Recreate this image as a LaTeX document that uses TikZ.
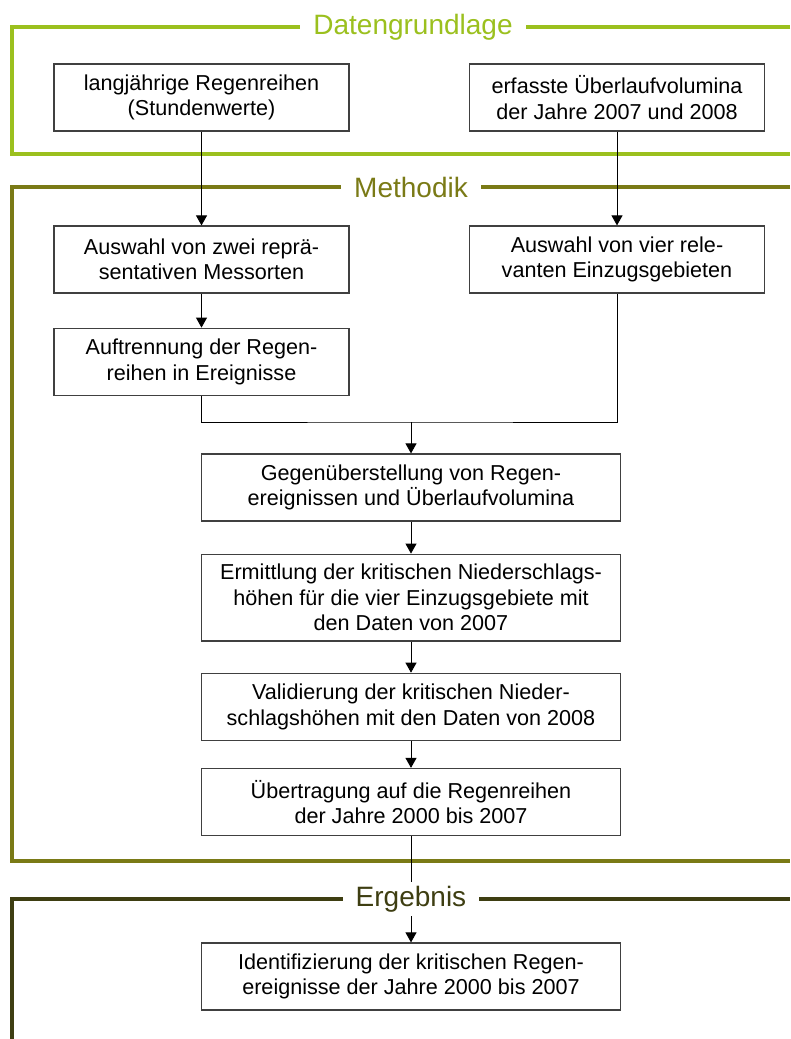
\documentclass[tikz,border=0pt]{standalone}
\usepackage{fontspec}
\setmainfont{Liberation Sans}
\usepackage{tikz}
\usetikzlibrary{positioning,arrows.meta}

\definecolor{grundgruen}{RGB}{155,192,30}
\definecolor{methodoliv}{RGB}{122,122,22}
\definecolor{ergebnisoliv}{RGB}{62,62,18}

\begin{document}
\begin{tikzpicture}[x=1pt, y=-1pt,
  box/.style={draw=black!75, line width=1.2pt, minimum width=#1, minimum height=67pt,
              inner ysep=10pt, align=center, fill=white, font=\fontsize{21.6}{25.5}\selectfont},
  box/.default=295pt,
  frame/.style={line width=3.2pt, draw=#1},
  title/.style={fill=white, text=#1, font=\fontsize{28}{32}\selectfont,
                inner xsep=13pt, inner ysep=4pt},
  arr/.style={-{Triangle[length=10pt,width=11pt]}, line width=0.9pt},
  con/.style={line width=0.9pt}
]
  \useasboundingbox (0,0) rectangle (790,1039);

  % Rahmen
  \draw[frame=grundgruen] (790,27) -- (12,27) -- (12,154) -- (790,154);
  \draw[frame=methodoliv] (790,187) -- (12,187) -- (12,861) -- (790,861);
  \draw[frame=ergebnisoliv] (790,899) -- (12,899) -- (12,1045);

  \node[title=grundgruen] (grundlageTitel) at (413,27) {Datengrundlage};
  \node[title=methodoliv] (methodikTitel) at (411,187) {Methodik};
  \node[title=ergebnisoliv] (ergebnisTitel) at (411,899) {Ergebnis};

  % Datengrundlage
  \node[box] (regenreihen) at (201.5,97.5) {langjährige Regenreihen\\(Stundenwerte)};
  \node[box] (volumina) at (617,97.5) {erfasste Überlaufvolumina\\der Jahre 2007 und 2008};

  % Methodik
  \node[box] (messorten) at (201.5,259.5) {Auswahl von zwei reprä-\\sentativen Messorten};
  \node[box] (gebiete) at (617,259.5) {Auswahl von vier rele-\\vanten Einzugsgebieten};
  \node[box, below=34pt of messorten] (ereignisse) {Auftrennung der Regen-\\reihen in Ereignisse};
  \coordinate (zusammen) at (411,422);
  \node[box=419pt] (gegenueber) at (411,487.5) {Gegenüberstellung von Regen-\\ereignissen und Überlaufvolumina};
  \node[box=419pt, below=32pt of gegenueber] (ermittlung) {Ermittlung der kritischen Niederschlags-\\höhen für die vier Einzugsgebiete mit\\den Daten von 2007};
  \node[box=419pt, below=31pt of ermittlung] (validierung) {Validierung der kritischen Nieder-\\schlagshöhen mit den Daten von 2008};
  \node[box=419pt, below=27pt of validierung] (uebertragung) {Übertragung auf die Regenreihen\\der Jahre 2000 bis 2007};

  % Ergebnis
  \node[box=419pt] (identifizierung) at (411,976.5) {Identifizierung der kritischen Regen-\\ereignisse der Jahre 2000 bis 2007};

  \draw[arr] (regenreihen) -- (messorten);
  \draw[arr] (volumina) -- (gebiete);
  \draw[arr] (messorten) -- (ereignisse);
  \draw[con] (ereignisse) |- (zusammen) -| (gebiete);
  \draw[arr] (zusammen) -- (gegenueber);
  \draw[arr] (gegenueber) -- (ermittlung);
  \draw[arr] (ermittlung) -- (validierung);
  \draw[arr] (validierung) -- (uebertragung);
  \draw[con] (uebertragung) -- (ergebnisTitel);
  \draw[arr] (ergebnisTitel) -- (identifizierung);
\end{tikzpicture}
\end{document}
